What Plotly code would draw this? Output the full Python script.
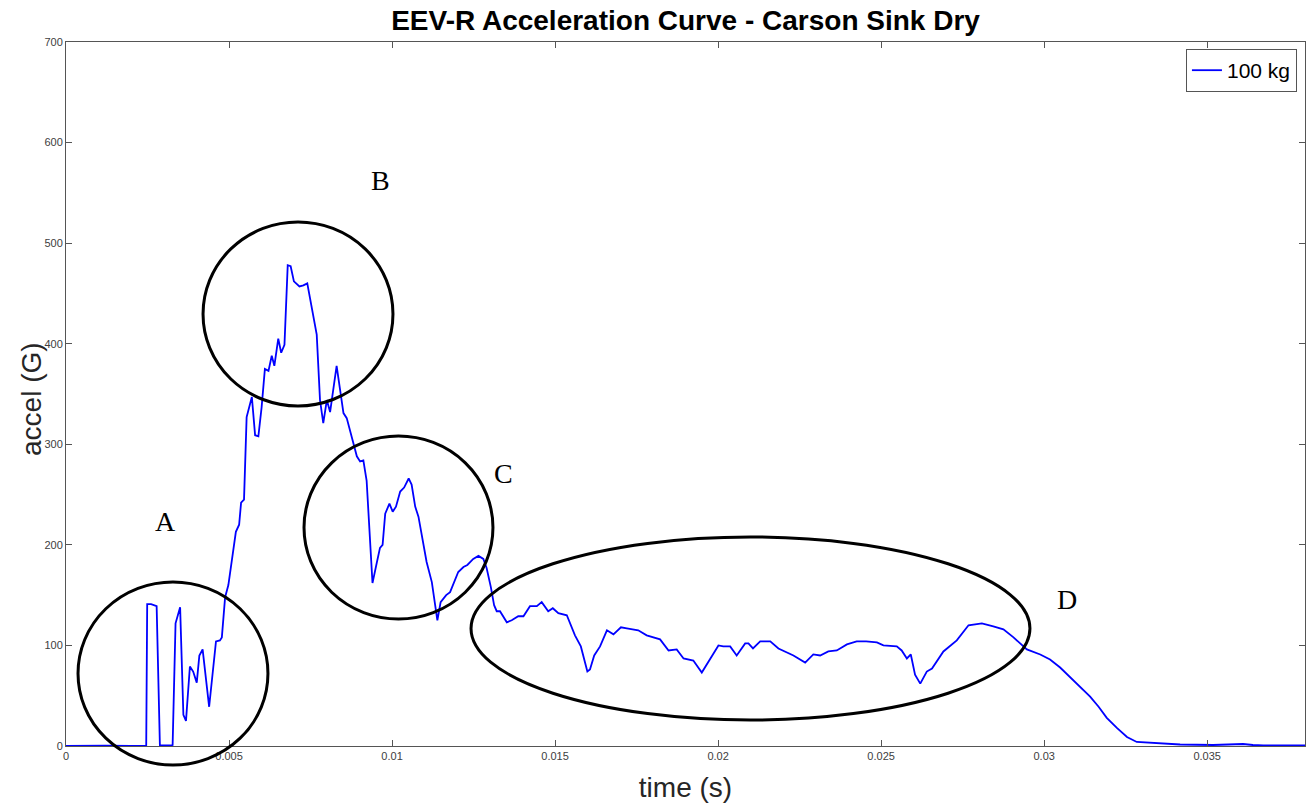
import plotly.graph_objects as go

# ---- data ----
time_s = [0, 0.00040, 0.00083, 0.00120, 0.00200, 0.00246,
          0.00249, 0.00261, 0.00278, 0.00288, 0.00321, 0.00327,
          0.00336, 0.00350, 0.00360, 0.00368, 0.00380, 0.00390,
          0.00401, 0.00409, 0.00419, 0.00439, 0.00460, 0.00472,
          0.00478, 0.00488, 0.00498, 0.00508, 0.00521, 0.00531,
          0.00537, 0.00546, 0.00554, 0.00570, 0.00580, 0.00590,
          0.00600, 0.00610, 0.00621, 0.00631, 0.00639, 0.00651,
          0.00660, 0.00670, 0.00680, 0.00689, 0.00699, 0.00716,
          0.00728, 0.00740, 0.00769, 0.00779, 0.00789, 0.00800,
          0.00810, 0.00830, 0.00851, 0.00861, 0.00892, 0.00902,
          0.00912, 0.00922, 0.00940, 0.00953, 0.00963, 0.00971,
          0.00979, 0.00992, 0.01002, 0.01012, 0.01025, 0.01037,
          0.01051, 0.01060, 0.01071, 0.01081, 0.01106, 0.01122,
          0.01139, 0.01149, 0.01166, 0.01178, 0.01203, 0.01219,
          0.01231, 0.01249, 0.01265, 0.01280, 0.01290, 0.01303,
          0.01313, 0.01321, 0.01331, 0.01352, 0.01367, 0.01387,
          0.01403, 0.01423, 0.01444, 0.01459, 0.01479, 0.01493,
          0.01510, 0.01536, 0.01561, 0.01579, 0.01599, 0.01607,
          0.01620, 0.01638, 0.01659, 0.01679, 0.01702, 0.01720,
          0.01755, 0.01781, 0.01802, 0.01822, 0.01848, 0.01873,
          0.01894, 0.01924, 0.01950, 0.01981, 0.02001, 0.02016,
          0.02037, 0.02057, 0.02083, 0.02093, 0.02107, 0.02129,
          0.02160, 0.02185, 0.02231, 0.02267, 0.02292, 0.02313,
          0.02338, 0.02364, 0.02395, 0.02425, 0.02454, 0.02487,
          0.02507, 0.02548, 0.02563, 0.02579, 0.02591, 0.02604,
          0.02620, 0.02640, 0.02656, 0.02691, 0.02732, 0.02768,
          0.02809, 0.02844, 0.02875, 0.02906, 0.02947, 0.02988,
          0.03018, 0.03049, 0.03080, 0.03110, 0.03141, 0.03167,
          0.03192, 0.03223, 0.03254, 0.03284, 0.03335, 0.03417,
          0.03518, 0.03580, 0.03610, 0.03640, 0.03672, 0.03800]
accel_g = [0, 0.2, 0.6, 0.3, 0.2, 0.3,
           141, 141, 139, 0.5, 0.5, 1,
           122, 138, 31, 25, 79, 74,
           63, 90, 96, 39, 104, 105,
           108, 148, 160, 185, 213, 220,
           242, 245, 327, 347, 309, 308,
           337, 375, 373, 388, 378, 405,
           391, 399, 478, 477, 462, 457,
           458, 460, 409, 344, 321, 344,
           332, 378, 331, 326, 288, 283,
           284, 264, 162, 182, 197, 200,
           231, 241, 233, 238, 253, 257,
           266, 260, 238, 228, 183, 163,
           125, 143, 150, 153, 173, 178,
           180, 186, 189, 186, 177, 158,
           140, 134, 134, 123, 125, 129,
           129, 139, 139, 143, 134, 137,
           132, 130, 110, 99, 74, 76,
           90, 99, 115, 111, 118, 117,
           115, 110, 108, 106, 95, 96,
           87, 85, 73, 90, 100, 99,
           99, 90, 102, 102, 97, 104,
           104, 97, 90, 83, 91, 90,
           94, 95, 101, 104, 104, 103,
           100, 99, 95, 87, 91, 71,
           62, 74, 77, 94, 105, 120,
           122, 119, 116, 108, 96, 91,
           86, 78, 68, 58, 49, 39,
           28, 18, 9, 4, 3, 1.5,
           1, 1.2, 2, 1, 0.5, 0.5]
series_name = "100 kg"

x_tick_vals = [0, 0.005, 0.01, 0.015, 0.02, 0.025, 0.03, 0.035]
x_tick_text = ["0", "0.005", "0.01", "0.015", "0.02", "0.025", "0.03", "0.035"]
y_tick_vals = [0, 100, 200, 300, 400, 500, 600, 700]

# region annotations: label, label position (paper), ellipse bounds (paper x0, x1, y0, y1)
region_labels = ["A", "B", "C", "D"]
label_x = [0.0807, 0.2542, 0.3535, 0.8079]
label_y = [0.3196, 0.8026, 0.3864, 0.2088]
ellipse_x0 = [0.0097, 0.1106, 0.1921, 0.3269]
ellipse_x1 = [0.1630, 0.2639, 0.3446, 0.7780]
ellipse_y0 = [-0.0270, 0.4830, 0.1804, 0.0369]
ellipse_y1 = [0.2330, 0.7443, 0.4403, 0.2969]

fig = go.Figure()
fig.add_trace(go.Scatter(x=time_s, y=accel_g, mode="lines", name=series_name,
                         line=dict(color="#0000FF", width=1.8)))

for i, lab in enumerate(region_labels):
    fig.add_shape(type="circle", xref="paper", yref="paper",
                  x0=ellipse_x0[i], x1=ellipse_x1[i],
                  y0=ellipse_y0[i], y1=ellipse_y1[i],
                  line=dict(color="black", width=3))
    fig.add_annotation(x=label_x[i], y=label_y[i], xref="paper", yref="paper",
                       xanchor="center", yanchor="middle",
                       text=lab, showarrow=False,
                       font=dict(family="Liberation Serif", size=28, color="black"))

# y-axis title placed as a rotated annotation for exact positioning
fig.add_annotation(x=-0.0274, y=0.493, xref="paper", yref="paper",
                   xanchor="center", yanchor="middle", textangle=-90,
                   text="accel (G)", showarrow=False,
                   font=dict(family="Liberation Sans", size=28, color="#262626"))

axis_common = dict(showline=True, linecolor="#555555", linewidth=1, mirror="ticks",
                   ticks="inside", ticklen=6, tickcolor="#555555", showgrid=False,
                   zeroline=False,
                   tickfont=dict(family="Liberation Sans", size=11, color="#404040"))

fig.update_layout(
    width=1310, height=803,
    margin=dict(l=66, r=5, t=42, b=57),
    paper_bgcolor="white", plot_bgcolor="white",
    title=dict(text="<b>EEV-R Acceleration Curve - Carson Sink Dry</b>",
               x=0.5233, xanchor="center", y=0.975, yanchor="middle",
               font=dict(family="Liberation Sans", size=28, color="black")),
    xaxis=dict(range=[0, 0.038], tickvals=x_tick_vals, ticktext=x_tick_text,
               title=dict(text="time (s)", standoff=16,
                          font=dict(family="Liberation Sans", size=28, color="#262626")),
               **axis_common),
    yaxis=dict(range=[0, 700], tickvals=y_tick_vals, **axis_common),
    showlegend=True,
    legend=dict(x=0.9935, xanchor="right", y=0.990, yanchor="top",
                bgcolor="white", bordercolor="#555555", borderwidth=1,
                font=dict(family="Liberation Sans", size=21, color="black"),
                itemwidth=30, tracegroupgap=0),
)

fig.write_html("out.html")
